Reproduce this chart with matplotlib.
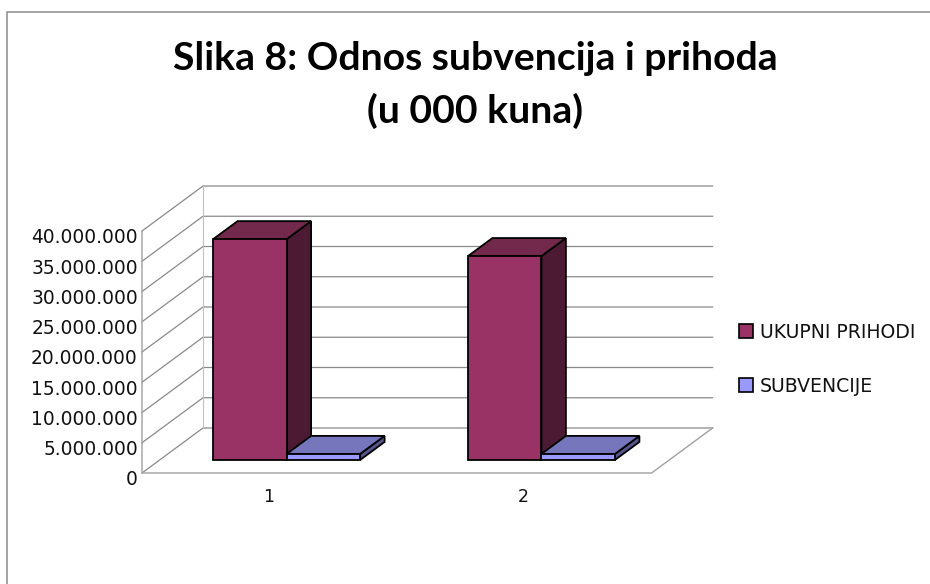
import matplotlib
matplotlib.use("Agg")
import matplotlib.pyplot as plt
from matplotlib.patches import Polygon, Rectangle
from matplotlib.transforms import ScaledTranslation

categories = ["1", "2"]
prihodi = [36500000, 33700000]
subvencije = [1000000, 1000000]
y_ticks = [0, 5000000, 10000000, 15000000, 20000000, 25000000, 30000000, 35000000, 40000000]
series_names = ["UKUPNI PRIHODI", "SUBVENCIJE"]

W, H = 930, 584
plt.rcParams['font.family'] = ['Lato', 'DejaVu Sans']

# pixel layout of the fake 3d box
left, right, bottom, top = 142, 712, 473, 186
cat_px = 254.8
val_px = 242 / 40000000.0
depth_x = 61 / cat_px
depth_y = 45 / val_px


def fmt(v):
    return f"{v:,}".replace(",", ".")


def proj(x, y, d):
    return (x + d * depth_x, y + d * depth_y)


def box(ax, x0, x1, h, d0, d1, front, topc, side):
    a = [proj(x0, 0, d0), proj(x1, 0, d0), proj(x1, h, d0), proj(x0, h, d0)]
    b = [proj(x0, h, d0), proj(x1, h, d0), proj(x1, h, d1), proj(x0, h, d1)]
    c = [proj(x1, 0, d0), proj(x1, 0, d1), proj(x1, h, d1), proj(x1, h, d0)]
    for pts, col in [(c, side), (b, topc), (a, front)]:
        ax.add_patch(Polygon(pts, closed=True, facecolor=col, edgecolor='black', linewidth=1.3, zorder=5))


fig = plt.figure(figsize=(W / 100, H / 100), dpi=100)
fig.patch.set_facecolor('white')
fig.add_artist(Rectangle((7 / W, -0.05), 1.1, 1.05 - 12 / H, transform=fig.transFigure,
                         facecolor='none', edgecolor='#8c8c8c', linewidth=1.1))

ax = fig.add_axes([left / W, 1 - bottom / H, (right - left) / W, (bottom - top) / H])
ax.set_xlim(0, (right - left) / cat_px)
ax.set_ylim(0, (bottom - top) / val_px)
ax.patch.set_visible(False)
for s in ax.spines.values():
    s.set_visible(False)

# walls and floor
n = len(categories)
for v in y_ticks:
    ax.plot(*zip(proj(0, v, 0), proj(0, v, 1), proj(n, v, 1)), color='#8a8a8a', linewidth=0.9, zorder=1,
            solid_joinstyle='miter', clip_on=False)
ax.plot(*zip(proj(0, y_ticks[-1], 0), proj(0, 0, 0), proj(n, 0, 0), proj(n, 0, 1)), color='#a0a0a0',
        linewidth=1.0, zorder=1, clip_on=False)
ax.plot(*zip(proj(0, y_ticks[-1], 1), proj(0, 0, 1)), color='#c0c0c0', linewidth=0.8, zorder=1)

# bars
gap = 53.5 / cat_px
bar_w = 73.5 / cat_px
d0, d1 = 0.29, 0.69
for i in range(n):
    x0 = i + gap
    box(ax, x0, x0 + bar_w, prihodi[i], d0, d1, '#993366', '#72294c', '#4c1a33')
    box(ax, x0 + bar_w, x0 + 2 * bar_w, subvencije[i], d0, d1, '#9999ff', '#7676bd', '#55558c')

ax.set_yticks(y_ticks)
ax.set_yticklabels([fmt(v) for v in y_ticks], fontsize=13.4, color='#111111', family='DejaVu Sans')
ax.set_xticks([i + 0.495 for i in range(n)])
ax.set_xticklabels(categories, fontsize=12.5, color='#111111', family='DejaVu Sans')
ax.tick_params(axis='both', length=0)
ax.tick_params(axis='y', pad=3)
ax.tick_params(axis='x', pad=11)
# labels sit a little below their ticks in the original
shift = ScaledTranslation(0, -3.5 / 72, fig.dpi_scale_trans)
for lab in ax.get_yticklabels():
    lab.set_transform(lab.get_transform() + shift)

fig.text(475 / W, 1 - 59 / H, "Slika 8: Odnos subvencija i prihoda", fontsize=28.2, fontweight='bold',
         ha='center', va='center', color='black')
fig.text(475 / W, 1 - 111 / H, "(u 000 kuna)", fontsize=28.2, fontweight='bold',
         ha='center', va='center', color='black')

# legend
for name, col, y in zip(series_names, ['#993366', '#9999ff'], [331, 385]):
    fig.add_artist(Rectangle((739 / W, 1 - (y + 7) / H), 14 / W, 14 / H, transform=fig.transFigure,
                             facecolor=col, edgecolor='black', linewidth=1.2))
    fig.text(760 / W, 1 - (y + 1) / H, name, fontsize=13.6, ha='left', va='center', color='#111111',
             family='DejaVu Sans')

fig.savefig("out.png", dpi=100)
